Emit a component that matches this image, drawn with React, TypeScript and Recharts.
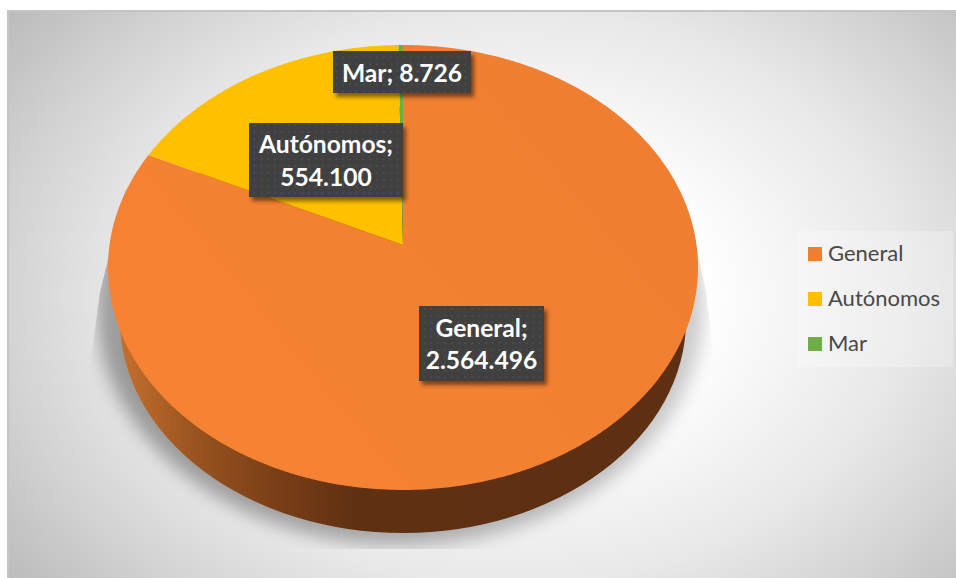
import { Legend, Pie, PieChart } from "recharts";

const categories = ["General", "Autónomos", "Mar"];
const values = [2564496, 554100, 8726];
const colors = ["#F17F31", "#FFC000", "#70AD47"];

const table = categories.map((name, i) => ({ name, value: values[i], fill: colors[i] }));

// where Excel left the data labels
const labelBoxes = [
  { x: 419, y: 306, w: 125, h: 75, lines: ["General;", "2.564.496"] },
  { x: 249, y: 123, w: 154, h: 74, lines: ["Autónomos;", "554.100"] },
  { x: 333, y: 51, w: 138, h: 42, lines: ["Mar; 8.726"] },
];

const font = "Lato, 'Open Sans', sans-serif";
const radius = 200;

// tilted disc: circle point -> screen offset from the pie centre
function project(cx: number, cy: number, r: number, deg: number) {
  const u = Math.cos((deg * Math.PI) / 180);
  const v = Math.sin((deg * Math.PI) / 180);
  const w = 1 + 0.101 * v;
  return [cx + (r * 1.4675 * u) / w, cy - (r * 1.101 * v) / w];
}

function PieBase({ cx, cy, r }: { cx: number; cy: number; r: number }) {
  return (
    <g>
      <polygon
        points={`${cx - 277},${cy - 55} ${cx + 277},${cy - 55} ${cx + 303},${cy + 47} ${cx + 315},${cy + 150} ${cx - 317},${cy + 150} ${cx - 303},${cy + 47}`}
        fill="url(#wedgeLight)"
      />
      <g clipPath="url(#groundClip)">
        <ellipse
          cx={cx - 3}
          cy={cy + 60}
          rx={r * 1.52}
          ry={r * 1.2}
          fill="url(#groundShade)"
          filter="url(#groundBlur)"
        />
      </g>
      <ellipse cx={cx} cy={cy + 75} rx={r * 1.415} ry={r * 1.065} fill="url(#wallShade)" />
    </g>
  );
}

function SliceShape(props: any) {
  const { cx, cy, outerRadius, startAngle, endAngle, fill, index } = props;
  const n = Math.max(2, Math.ceil(Math.abs(endAngle - startAngle) * 2));
  const pts = [];
  for (let i = 0; i <= n; i++) {
    pts.push(project(cx, cy, outerRadius, startAngle + ((endAngle - startAngle) * i) / n));
  }
  const d = `M${cx},${cy} ` + pts.map((p) => `L${p[0]},${p[1]}`).join(" ") + " Z";
  return (
    <g>
      {index === 0 && <PieBase cx={cx} cy={cy} r={outerRadius} />}
      <path d={d} fill={index === 0 ? "url(#topShade)" : fill} />
    </g>
  );
}

function DataLabel(props: any) {
  const box = labelBoxes[props.index];
  if (!box) return null;
  const mid = box.y + box.h / 2;
  return (
    <g>
      <rect x={box.x} y={box.y} width={box.w} height={box.h} fill="#404040" filter="url(#labelShadow)" />
      <rect x={box.x} y={box.y} width={box.w} height={box.h} fill="url(#labelDots)" />
      {box.lines.map((line, i) => (
        <text
          key={line}
          x={box.x + box.w / 2}
          y={mid + (i - (box.lines.length - 1) / 2) * 32.5}
          textAnchor="middle"
          dominantBaseline="central"
          fontFamily={font}
          fontWeight={700}
          fontSize={24.6}
          fill="#fff"
        >
          {line}
        </text>
      ))}
    </g>
  );
}

function LegendBox({ payload }: any) {
  return (
    <div style={{ width: 156, height: 136, background: "rgba(255,255,255,0.25)", position: "relative" }}>
      {(payload || []).map((item: any, i: number) => (
        <div
          key={item.value}
          style={{ position: "absolute", left: 11, top: 16 + i * 45, display: "flex", alignItems: "center", height: 14 }}
        >
          <span style={{ width: 14, height: 14, background: item.color, marginRight: 6 }} />
          <span style={{ fontFamily: font, fontSize: 22, color: "#484848", whiteSpace: "nowrap", position: "relative", top: -2 }}>
            {item.value}
          </span>
        </div>
      ))}
    </div>
  );
}

export default function App() {
  return (
    <div style={{ position: "absolute", left: 0, top: 0, width: 956, height: 578, background: "#fff", overflow: "hidden" }}>
      <div
        style={{
          position: "absolute",
          left: 7,
          top: 10,
          width: 949,
          height: 568,
          boxSizing: "border-box",
          borderTop: "2px solid #c4c4c4",
          borderLeft: "2px solid #c4c4c4",
          background:
            "radial-gradient(ellipse 630px 465px at 505px 285px, #ffffff 0%, #ffffff 30%, #e8e8e8 62%, #d2d2d2 82%, #bcbcbc 100%)",
        }}
      />
      <div style={{ position: "absolute", left: 0, top: 0 }}>
        <PieChart width={956} height={578} margin={{ top: 0, right: 0, bottom: 0, left: 0 }}>
          <defs>
            <linearGradient id="wallShade" gradientUnits="userSpaceOnUse" x1="113" x2="690" y1="0" y2="0">
              <stop offset="0" stopColor="#c87230" />
              <stop offset="0.15" stopColor="#97521f" />
              <stop offset="0.28" stopColor="#7b3f17" />
              <stop offset="0.42" stopColor="#5f3012" />
              <stop offset="1" stopColor="#5e2f12" />
            </linearGradient>
            <linearGradient id="topShade" gradientUnits="userSpaceOnUse" x1="640" x2="200" y1="80" y2="450">
              <stop offset="0" stopColor="#ef7e30" />
              <stop offset="1" stopColor="#f68333" />
            </linearGradient>
            <linearGradient id="wedgeLight" x1="0" x2="0" y1="0" y2="1">
              <stop offset="0" stopColor="#fff" stopOpacity={0.35} />
              <stop offset="0.6" stopColor="#fff" stopOpacity={0.35} />
              <stop offset="0.85" stopColor="#fff" stopOpacity={0} />
            </linearGradient>
            <linearGradient id="groundShade" x1="0" x2="1" y1="0" y2="0">
              <stop offset="0" stopColor="#000" stopOpacity={0.34} />
              <stop offset="0.5" stopColor="#000" stopOpacity={0.3} />
              <stop offset="1" stopColor="#000" stopOpacity={0.2} />
            </linearGradient>
            <clipPath id="groundClip">
              <polygon points="125,190 685,190 706,292 718,395 718,549 86,549 86,395 100,292" />
            </clipPath>
            <filter id="groundBlur" x="-10%" y="-10%" width="120%" height="120%">
              <feGaussianBlur stdDeviation="9" />
            </filter>
            <filter id="labelShadow" x="-10%" y="-15%" width="125%" height="140%">
              <feDropShadow dx="3" dy="4" stdDeviation="2.2" floodColor="#000" floodOpacity={0.5} />
            </filter>
            <pattern id="labelDots" width="6.8" height="6.8" patternUnits="userSpaceOnUse">
              <circle cx="3" cy="3" r="0.9" fill="#545454" />
            </pattern>
          </defs>
          <Pie
            data={table}
            dataKey="value"
            nameKey="name"
            cx={403}
            cy={245}
            outerRadius={radius}
            startAngle={90}
            endAngle={-270}
            stroke="none"
            shape={SliceShape}
            label={DataLabel}
            labelLine={false}
            isAnimationActive={false}
          />
          <Legend
            layout="vertical"
            align="right"
            verticalAlign="middle"
            itemSorter={null}
            content={LegendBox}
            wrapperStyle={{ left: 797, top: 231, width: 156, height: 136 }}
          />
        </PieChart>
      </div>
    </div>
  );
}
